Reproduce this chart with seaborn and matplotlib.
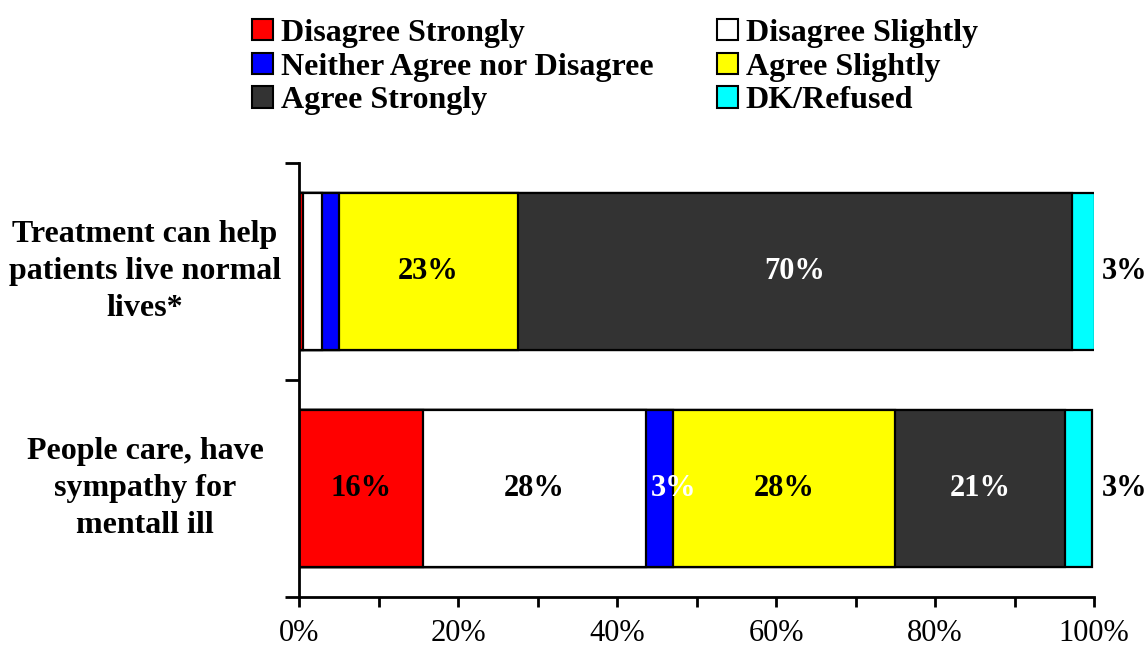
import numpy as np
import pandas as pd
import matplotlib
matplotlib.use("Agg")
import matplotlib.pyplot as plt
import matplotlib.transforms as mtransforms
from matplotlib.patches import Patch
from matplotlib.ticker import MultipleLocator, FuncFormatter
import seaborn as sns

# Survey statements (top to bottom)
statements = ["Treatment can help\npatients live normal\nlives*",
              "People care, have\nsympathy for\nmentall ill"]

responses = ["Disagree Strongly", "Disagree Slightly",
             "Neither Agree nor Disagree", "Agree Slightly",
             "Agree Strongly", "DK/Refused"]

# Percent of respondents per response, one list per statement
treatment_vals = [0.5, 2.4, 2.1, 22.6, 69.6, 2.9]
sympathy_vals = [15.6, 28.0, 3.4, 28.0, 21.4, 3.3]

colors = ["#FF0000", "#FFFFFF", "#0000FF", "#FFFF00", "#333333", "#00FFFF"]
label_colors = ["black", "black", "white", "black", "white", "black"]
# Segments that get a value label (small sliver segments stay unlabeled)
show_treatment = [False, False, False, True, True, True]
show_sympathy = [True, True, True, True, True, True]

sns.set_theme(style="white")
plt.rcParams["font.family"] = ["Liberation Serif", "DejaVu Serif"]
plt.rcParams["text.color"] = "black"
plt.rcParams["xtick.color"] = "black"
plt.rcParams["ytick.color"] = "black"

data = np.array([treatment_vals, sympathy_vals])
cum = np.cumsum(data, axis=1)
starts = cum - data

fig = plt.figure(figsize=(11.48, 6.52), dpi=100)
ax = fig.add_axes([299 / 1148, 1 - 597 / 652, (1094 - 299) / 1148, (597 - 163) / 652])

# Stacked bars: draw cumulative totals from the last response back to the first
for j in range(len(responses) - 1, -1, -1):
    df = pd.DataFrame({"statement": statements, "total": cum[:, j]})
    sns.barplot(data=df, y="statement", x="total", orient="h", ax=ax,
                color=colors[j], edgecolor="black", linewidth=1.6,
                width=0.72, saturation=1, zorder=2)

# Value labels
for i, (vals, shows) in enumerate([(treatment_vals, show_treatment),
                                   (sympathy_vals, show_sympathy)]):
    for j, v in enumerate(vals):
        if not shows[j]:
            continue
        ha = "center"
        if j == len(vals) - 1:
            xpos, col = 103.9, "black"
        elif v < 5:
            # narrow segment: start the label just inside its left edge
            xpos, col, ha = starts[i, j] + 0.6, label_colors[j], "left"
        else:
            xpos, col = starts[i, j] + v / 2, label_colors[j]
        ax.text(xpos, i, f"{v:.0f}%", ha=ha, va="center",
                fontsize=22, fontweight="bold", color=col, clip_on=False)

ax.set_xlim(0, 100)
ax.set_ylim(1.5, -0.5)
ax.set_xlabel("")
ax.set_ylabel("")

# Axes styling
for side in ["top", "right"]:
    ax.spines[side].set_visible(False)
for side in ["left", "bottom"]:
    ax.spines[side].set_color("black")
    ax.spines[side].set_linewidth(2.0)

ax.set_yticks([-0.5, 0.5, 1.5])
ax.set_yticklabels([])
ax.tick_params(axis="y", which="major", direction="out", length=10, width=2,
               color="black", left=True)
ax.xaxis.set_major_locator(MultipleLocator(20))
ax.xaxis.set_minor_locator(MultipleLocator(10))
ax.xaxis.set_major_formatter(FuncFormatter(lambda x, p: f"{x:.0f}%"))
ax.tick_params(axis="x", which="both", direction="out", length=7, width=2,
               color="black", bottom=True, labelsize=22, pad=9,
               labelcolor="black")

# Statement labels to the left of the bars, centred at a fixed figure x
label_tf = mtransforms.blended_transform_factory(fig.transFigure, ax.transData)
for i, s in enumerate(statements):
    ax.text(145 / 1148, i, s, transform=label_tf, ha="center",
            va="center", fontsize=23, fontweight="bold", color="black",
            linespacing=1.38, multialignment="center", clip_on=False)

# Legend (two columns, filled column-major)
order = [0, 2, 4, 1, 3, 5]
handles = [Patch(facecolor=colors[k], edgecolor="black", linewidth=1.5) for k in order]
labels = [responses[k] for k in order]
fig.legend(handles, labels, ncol=2, loc="upper left",
           bbox_to_anchor=(239 / 1148, 1 - 6 / 652), frameon=False,
           prop={"weight": "bold", "size": 23}, handlelength=0.65,
           handleheight=0.65, handletextpad=0.25, columnspacing=2.0,
           labelspacing=0.15, borderaxespad=0, labelcolor="black")

fig.savefig("out.png", dpi=100, facecolor="white")
